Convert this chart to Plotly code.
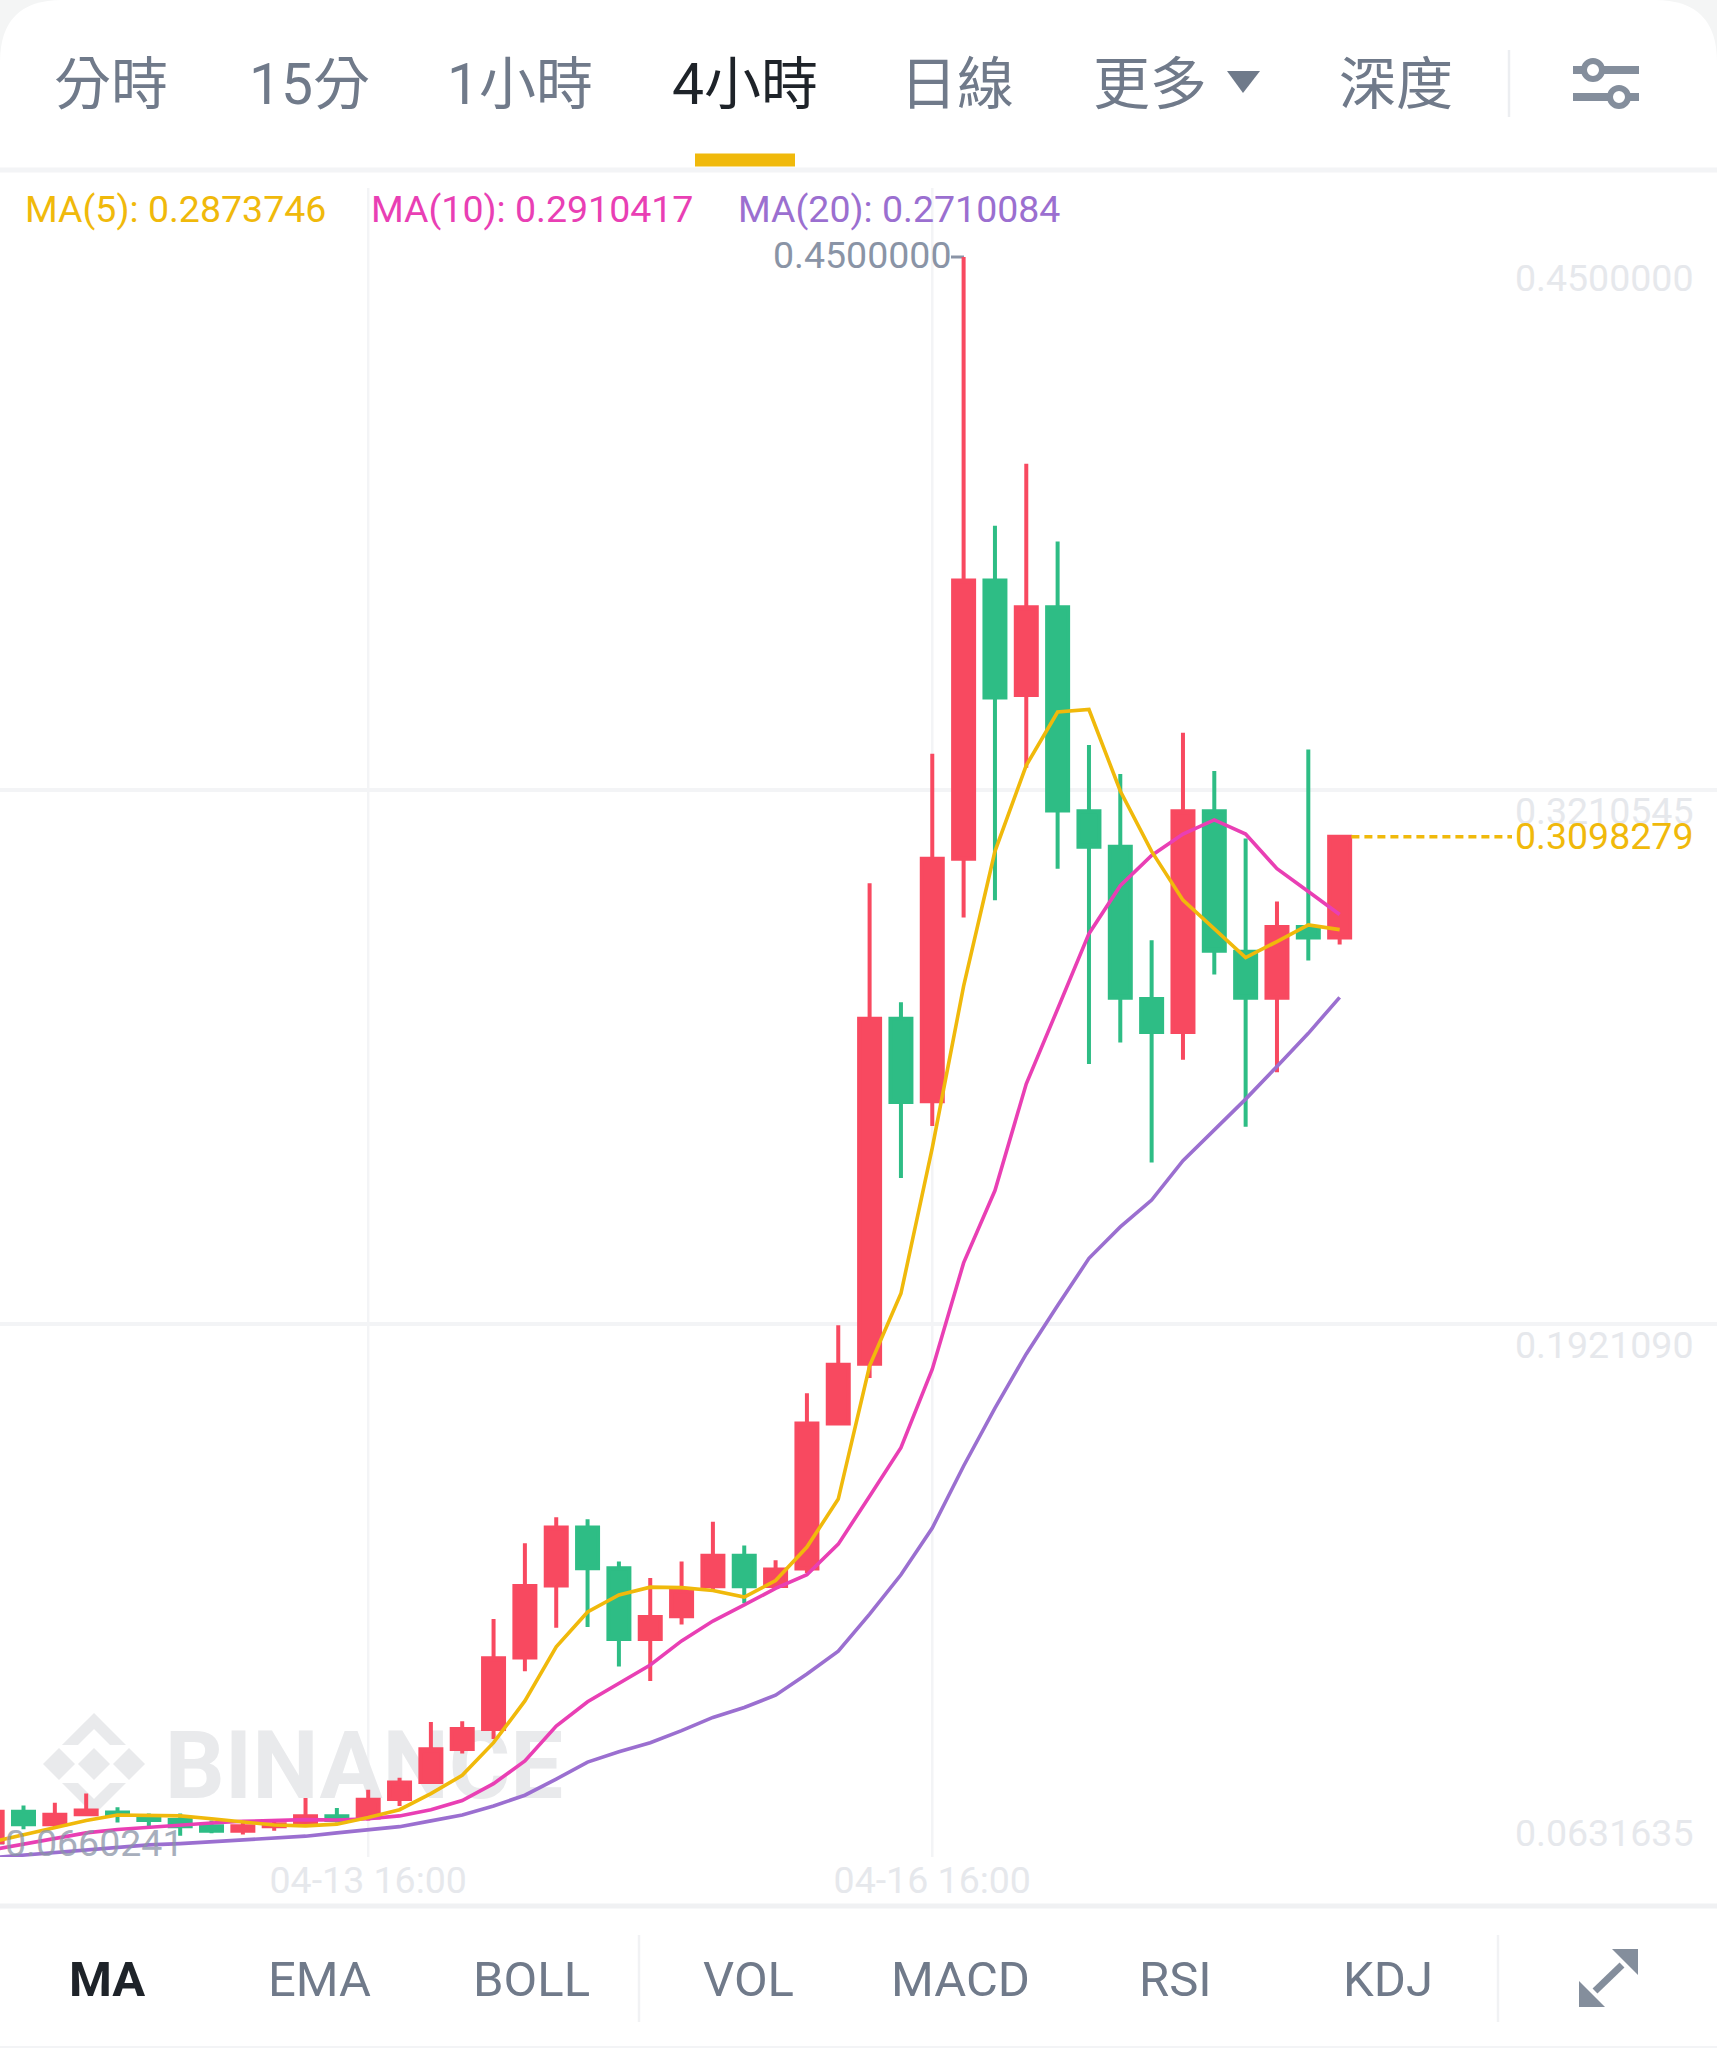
import pandas as pd
import plotly.graph_objects as go

W, H = 1717, 2048

# 4h candles, first one 04-11 16:00
dates = pd.date_range('2021-04-11 16:00', periods=44, freq='4h')

opens = [.0667, .0741, .0711, .0735, .0739, .0730, .0721, .0706, .0695, .0706, .0715,
         .0730, .0727, .0772, .0813, .0893, .0941, .1114, .1288, .1428, .1330, .1159,
         .1214, .1286, .1360, .1287, .1329, .1680, .1824, .2658, .2459, .3045, .3718,
         .3441, .3653, .3160, .3074, .2706, .2626, .3160, .2820, .2709, .2880, .2855]
closes = [.0741, .0711, .0734, .0744, .0733, .0721, .0706, .0695, .0706, .0711, .0730,
          .0721, .0770, .0812, .0892, .0941, .1112, .1287, .1428, .1330, .1159, .1212,
          .1276, .1360, .1286, .1327, .1680, .1822, .2658, .2457, .3045, .3718, .3435,
          .3653, .3162, .3074, .2709, .2626, .3160, .2823, .2709, .2880, .2855, .3098279]
highs = [.0745, .0756, .0763, .0785, .0752, .0737, .0737, .0720, .0720, .0720, .0774,
         .0750, .0794, .0823, .0958, .0960, .1207, .1390, .1453, .1448, .1346, .1306,
         .1346, .1442, .1385, .1349, .1753, .1917, .2986, .2698, .3299, .4500, .3850,
         .4000, .3812, .3320, .3250, .2848, .3350, .3257, .3094, .2942, .3309, .3098279]
lows = [.0660241, .0699, .0702, .0730, .0715, .0706, .0683, .0689, .0686, .0695, .0711,
        .0715, .0720, .0755, .0813, .0882, .0917, .1081, .1186, .1188, .1092, .1057,
        .1194, .1276, .1245, .1285, .1318, .1677, .1790, .2273, .2399, .2903, .2945,
        .3265, .3021, .2549, .2601, .2311, .2559, .2765, .2397, .2529, .2799, .2838]

ma5 = [.0668, .0685, .0704, .0720, .0733, .0733, .0731, .0724, .0717, .0709, .0707,
       .0711, .0727, .0746, .0785, .0829, .0908, .1009, .1140, .1224, .1265, .1284,
       .1283, .1276, .1260, .1300, .1381, .1497, .1819, .1994, .2346, .2737, .3063,
       .3271, .3400, .3406, .3209, .3063, .2945, .2876, .2806, .2845, .2885, .2873746]
ma10 = [.0649, .0663, .0676, .0690, .0698, .0704, .0709, .0714, .0718, .0721, .0722,
        .0721, .0724, .0731, .0746, .0768, .0809, .0864, .0948, .1007, .1052, .1096,
        .1154, .1202, .1241, .1281, .1314, .1388, .1504, .1621, .1811, .2068, .2243,
        .2501, .2682, .2864, .2980, .3053, .3105, .3139, .3105, .3021, .2966, .2910417]
ma20 = [.0630, .0636, .0642, .0649, .0656, .0661, .0664, .0669, .0673, .0678, .0682,
        .0690, .0697, .0705, .0719, .0733, .0755, .0781, .0820, .0861, .0886, .0908,
        .0937, .0969, .0993, .1023, .1074, .1129, .1219, .1314, .1427, .1577, .1717,
        .1848, .1965, .2079, .2155, .2220, .2315, .2389, .2464, .2543, .2623, .2710084]

price_ticks = [0.45, 0.3210545, 0.192109, 0.0631635]
price_labels = ['0.4500000', '0.3210545', '0.1921090', '0.0631635']
date_ticks = ['2021-04-13 16:00', '2021-04-16 16:00']
date_labels = ['04-13 16:00', '04-16 16:00']
last_price = '0.3098279'
high_label = '0.4500000'
low_label = '0.0660241'

top_tabs = ['分時', '15分', '1小時', '4小時', '日線', '更多', '深度']
bottom_tabs = ['MA', 'EMA', 'BOLL', 'VOL', 'MACD', 'RSI', 'KDJ']

GOLD = '#F0B90B'
PINK = '#E93FB4'
PURPLE = '#9B6FD0'
RED = '#F84960'
GREEN = '#2EBD85'
GREY = '#707A8A'
DARK = '#1E2329'
FAINT = '#E6E8EC'
GRID = '#F3F4F6'
FONT = 'Roboto, "Noto Sans CJK TC", sans-serif'


# page pixels -> paper fractions
def px(x):
    return x / W


def py(y):
    return 1 - y / H


def note(text, x, y, size, color, anchor='center', yanchor='middle', xref='paper', yref='paper', **kw):
    return dict(text=text, x=x, y=y, xref=xref, yref=yref, xanchor=anchor, yanchor=yanchor,
                showarrow=False, font=dict(family=FONT, size=size, color=color), **kw)


def line(x0, y0, x1, y1, color, width):
    return dict(type='line', xref='paper', yref='paper', x0=px(x0), y0=py(y0), x1=px(x1), y1=py(y1),
                line=dict(color=color, width=width), layer='below')


def poly(points, color):
    path = 'M ' + ' L '.join(f'{px(a):.5f},{py(b):.5f}' for a, b in points) + ' Z'
    return dict(type='path', xref='paper', yref='paper', path=path, fillcolor=color,
                line=dict(width=0), layer='below')


fig = go.Figure()
fig.add_trace(go.Candlestick(
    x=dates, open=opens, high=highs, low=lows, close=closes,
    increasing=dict(line=dict(color=RED, width=4), fillcolor=RED),
    decreasing=dict(line=dict(color=GREEN, width=4), fillcolor=GREEN),
    whiskerwidth=0, showlegend=False))
for vals, col in [(ma20, PURPLE), (ma10, PINK), (ma5, GOLD)]:
    fig.add_trace(go.Scatter(x=dates, y=vals, mode='lines', line=dict(color=col, width=3.6),
                             showlegend=False))

shapes = []
# white card with rounded top corners, on the grey page
r = 62
shapes.append(dict(type='path', xref='paper', yref='paper', fillcolor='white', line=dict(width=0), layer='below',
                   path=f'M 0,0 L 0,{py(r):.5f} Q 0,1 {px(r):.5f},1 L {px(W - r):.5f},1 '
                        f'Q 1,1 1,{py(r):.5f} L 1,0 Z'))
# bands and separators
shapes.append(line(0, 170, W, 170, '#F3F4F6', 5))
shapes.append(line(0, 1906, W, 1906, '#F0F1F3', 5))
shapes.append(line(695, 160, 795, 160, GOLD, 13))
shapes.append(line(1509, 50, 1509, 117, '#ECEEF1', 2.5))
shapes.append(line(639, 1935, 639, 2022, '#F1F2F4', 2.5))
shapes.append(line(1498, 1935, 1498, 2022, '#F1F2F4', 2.5))
shapes.append(line(0, 2047, W, 2047, '#F3F4F6', 2))
# vertical grid goes a bit above the top price line
for d in date_ticks:
    shapes.append(dict(type='line', xref='x', yref='paper', x0=d, x1=d, y0=py(1857), y1=py(188),
                       line=dict(color=GRID, width=2.5), layer='below'))

# filter icon
shapes.append(line(1573, 70, 1639, 70, '#848E9C', 8))
shapes.append(line(1573, 97, 1639, 97, '#848E9C', 8))
for cx, cy in [(1593, 70), (1619, 97)]:
    shapes.append(dict(type='circle', xref='paper', yref='paper', x0=px(cx - 9), x1=px(cx + 9),
                       y0=py(cy + 9), y1=py(cy - 9), fillcolor='white',
                       line=dict(color='#848E9C', width=6), layer='above'))
# dropdown triangle
shapes.append(poly([(1227, 71), (1260, 71), (1243, 93)], '#6F7A8A'))
# expand icon
shapes.append(line(1595, 1991, 1622, 1965, '#848E9C', 7))
shapes.append(poly([(1638, 1949), (1638, 1975), (1612, 1949)], '#848E9C'))
shapes.append(poly([(1579, 2007), (1579, 1981), (1605, 2007)], '#848E9C'))
# high / low pointers
shapes.append(line(951, 257, 964, 257, '#8A94A6', 3))
shapes.append(line(0, 1843, 4, 1843, '#8A94A6', 3))
# last price dashes
shapes.append(dict(type='line', xref='x', yref='y', x0='2021-04-18 21:30', x1='2021-04-19 18:00',
                   y0=closes[-1], y1=closes[-1], line=dict(color=GOLD, width=3.5, dash='8px,5px')))

# watermark
wm = '#E9EAEC'
cx, cy = 94, 1764
shapes.append(poly([(cx, cy - 16), (cx + 16, cy), (cx, cy + 16), (cx - 16, cy)], wm))
shapes.append(poly([(cx - 51, cy), (cx - 35, cy - 16), (cx - 19, cy), (cx - 35, cy + 16)], wm))
shapes.append(poly([(cx + 51, cy), (cx + 35, cy - 16), (cx + 19, cy), (cx + 35, cy + 16)], wm))
shapes.append(poly([(cx, cy - 51), (cx + 32, cy - 19), (cx + 16, cy - 19), (cx, cy - 35),
                    (cx - 16, cy - 19), (cx - 32, cy - 19)], wm))
shapes.append(poly([(cx, cy + 51), (cx + 32, cy + 19), (cx + 16, cy + 19), (cx, cy + 35),
                    (cx - 16, cy + 19), (cx - 32, cy + 19)], wm))
shapes.append(dict(type='rect', xref='paper', yref='paper', x0=px(167), x1=px(561), y0=py(1811), y1=py(1707),
                   line=dict(width=0), fillcolor='rgba(0,0,0,0)', layer='below',
                   label=dict(text='<b>BINANCE</b>', textposition='middle center',
                              font=dict(family=FONT, size=94, color=wm))))

ann = []
for txt, xc in zip(top_tabs, [111, 309, 520, 745, 957, 1150, 1396]):
    ann.append(note(txt, px(xc), py(84), 57, DARK if txt == '4小時' else GREY))
for txt, xc in zip(bottom_tabs, [107, 319, 531, 748, 961, 1175, 1388]):
    if txt == 'MA':
        ann.append(note('<b>MA</b>', px(xc), py(1979), 49, DARK))
    else:
        ann.append(note(txt, px(xc), py(1979), 49, GREY))

ann.append(note(f'MA(5): {ma5[-1]:.7f}', px(23), py(209), 37.5, GOLD, anchor='left'))
ann.append(note(f'MA(10): {ma10[-1]:.7f}', px(369), py(209), 37.5, PINK, anchor='left'))
ann.append(note(f'MA(20): {ma20[-1]:.7f}', px(736), py(209), 37.5, PURPLE, anchor='left'))

# price labels sit under their gridline, the bottom one above it
for val, txt in zip(price_ticks, price_labels):
    bottom = val == price_ticks[-1]
    ann.append(note(txt, px(1696), val, 37.5, FAINT, anchor='right', yanchor='bottom' if bottom else 'top',
                    yref='y', yshift=0 if bottom else 3))
ann.append(note(last_price, px(1696), closes[-1], 37.5, GOLD, anchor='right', yref='y', yshift=1))
ann.append(note(high_label, px(954), py(255), 37.5, '#8A94A6', anchor='right'))
ann.append(note(low_label, px(3), py(1843), 37.5, '#8A94A6', anchor='left', opacity=0.75))

fig.update_layout(
    width=W, height=H,
    margin=dict(l=0, r=0, t=0, b=0),
    paper_bgcolor='#F4F5F5',
    plot_bgcolor='rgba(0,0,0,0)',
    boxgap=0.33,
    boxgroupgap=0,
    showlegend=False,
    hovermode=False,
    shapes=shapes,
    annotations=ann,
    xaxis=dict(domain=[0, 1], type='date', range=['2021-04-11 17:00', '2021-04-20 20:10'],
               rangeslider=dict(visible=False), showgrid=False, zeroline=False, showline=False,
               tickvals=date_ticks, ticktext=date_labels, ticks='', ticklabelstandoff=-3,
               tickfont=dict(family=FONT, size=37.5, color=FAINT)),
    yaxis=dict(domain=[py(1857), py(257)], range=[price_ticks[-1], price_ticks[0]],
               tickvals=price_ticks, showticklabels=False, ticks='',
               showgrid=True, gridcolor=GRID, gridwidth=4, zeroline=False, showline=False),
)

fig.write_html('out.html', post_script="document.body.style.margin='0';", config=dict(displayModeBar=False))
